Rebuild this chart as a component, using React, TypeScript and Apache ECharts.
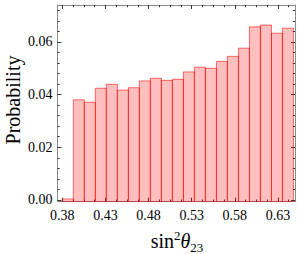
import React, { useEffect, useRef } from "react";
import * as echarts from "echarts";

// Histogram bin edges (sin^2 theta_23) and probabilities per bin
const binEdges = [
  0.3800, 0.3928, 0.4055, 0.4183, 0.4310, 0.4438, 0.4566, 0.4693, 0.4821,
  0.4949, 0.5076, 0.5204, 0.5331, 0.5459, 0.5587, 0.5714, 0.5842, 0.5970,
  0.6097, 0.6225, 0.6352, 0.6480,
];
const probabilities = [
  0.0004, 0.0380, 0.0371, 0.0424, 0.0439, 0.0417, 0.0426, 0.0452, 0.0462,
  0.0454, 0.0458, 0.0486, 0.0504, 0.0500, 0.0526, 0.0545, 0.0576, 0.0657,
  0.0664, 0.0633, 0.0652,
];

const xMajorTicks = [0.38, 0.43, 0.48, 0.53, 0.58, 0.63];
const xMinorTicks = [
  0.3925, 0.405, 0.4175, 0.4425, 0.455, 0.4675, 0.4925, 0.505, 0.5175,
  0.5425, 0.555, 0.5675, 0.5925, 0.605, 0.6175, 0.6425,
];
const yMajorTicks = [0, 0.02, 0.04, 0.06];
const yMinorTicks = [
  0.004, 0.008, 0.012, 0.016, 0.024, 0.028, 0.032, 0.036, 0.044, 0.048,
  0.052, 0.056, 0.064, 0.068, 0.072,
];

const X_MIN = 0.3744;
const X_MAX = 0.6498;
const Y_MIN = -0.00065;
const Y_MAX = 0.074;

const SERIF = "Liberation Serif, DejaVu Serif, serif";
const FRAME = "#8a8a8a";
const TICK = "#333333";

function makeX(position: "top" | "bottom", ticks: number[], len: number, labels: boolean, line: boolean) {
  return {
    type: "value",
    min: X_MIN,
    max: X_MAX,
    position,
    axisLine: { show: line, onZero: false, lineStyle: { color: FRAME, width: 1 } },
    axisTick: { show: true, inside: true, length: len, customValues: ticks, lineStyle: { color: TICK, width: 1 } },
    axisLabel: labels
      ? {
          show: true,
          customValues: ticks,
          formatter: (v: number) => v.toFixed(2),
          fontFamily: SERIF,
          fontSize: 14,
          color: "#000",
          margin: 7,
        }
      : { show: false },
    splitLine: { show: false },
  };
}

function makeY(position: "left" | "right", ticks: number[], len: number, labels: boolean, line: boolean) {
  return {
    type: "value",
    min: Y_MIN,
    max: Y_MAX,
    position,
    axisLine: { show: line, onZero: false, lineStyle: { color: FRAME, width: 1 } },
    axisTick: { show: true, inside: true, length: len, customValues: ticks, lineStyle: { color: TICK, width: 1 } },
    axisLabel: labels
      ? {
          show: true,
          customValues: ticks,
          formatter: (v: number) => v.toFixed(2),
          fontFamily: SERIF,
          fontSize: 14,
          color: "#000",
          margin: 5,
        }
      : { show: false },
    splitLine: { show: false },
  };
}

export default function App() {
  const ref = useRef<HTMLDivElement>(null);

  useEffect(() => {
    if (!ref.current) return;
    const chart = echarts.init(ref.current, null, { renderer: "svg" });
    const data = probabilities.map((p, i) => [binEdges[i], binEdges[i + 1], p]);

    chart.setOption({
      animation: false,
      grid: { left: 57.5, right: 4, top: 5, bottom: 52.3 },
      xAxis: [
        makeX("bottom", xMajorTicks, 4, true, true),
        makeX("top", xMajorTicks, 4, false, true),
        makeX("bottom", xMinorTicks, 2.2, false, false),
        makeX("top", xMinorTicks, 2.2, false, false),
      ],
      yAxis: [
        makeY("left", yMajorTicks, 4, true, true),
        makeY("right", yMajorTicks, 4, false, true),
        makeY("left", yMinorTicks, 2.2, false, false),
        makeY("right", yMinorTicks, 2.2, false, false),
      ],
      series: [
        {
          type: "custom",
          xAxisIndex: 0,
          yAxisIndex: 0,
          data,
          clip: true,
          renderItem: (params: any, api: any) => {
            const x0 = api.value(0);
            const x1 = api.value(1);
            const h = api.value(2);
            const p0 = api.coord([x0, h]);
            const p1 = api.coord([x1, Y_MIN]);
            return {
              type: "rect",
              shape: { x: p0[0], y: p0[1], width: p1[0] - p0[0], height: p1[1] - p0[1] },
              style: {
                fill: "rgba(255,0,0,0.25)",
                stroke: "rgba(255,0,0,0.55)",
                lineWidth: 1,
              },
            };
          },
        },
      ],
      graphic: [
        {
          type: "text",
          x: 13,
          y: 100,
          rotation: Math.PI / 2,
          style: {
            text: "Probability",
            fontFamily: SERIF,
            fontSize: 20,
            fill: "#000",
            align: "center",
            verticalAlign: "middle",
          },
        },
        {
          type: "text",
          x: 177,
          y: 241,
          style: {
            text: "{a|sin}{b|2}{c|θ}{d|23}",
            align: "center",
            verticalAlign: "middle",
            fill: "#000",
            rich: {
              a: { fontFamily: SERIF, fontSize: 20, lineHeight: 25, verticalAlign: "middle" },
              b: { fontFamily: SERIF, fontSize: 13, lineHeight: 13, verticalAlign: "top" },
              c: { fontFamily: SERIF, fontSize: 20, fontStyle: "italic", lineHeight: 25, verticalAlign: "middle" },
              d: { fontFamily: SERIF, fontSize: 13, lineHeight: 13, verticalAlign: "bottom" },
            },
          },
        },
      ],
    });

    return () => chart.dispose();
  }, []);

  return (
    <div
      ref={ref}
      style={{ position: "absolute", left: 0, top: 0, width: 299, height: 254 }}
    />
  );
}
